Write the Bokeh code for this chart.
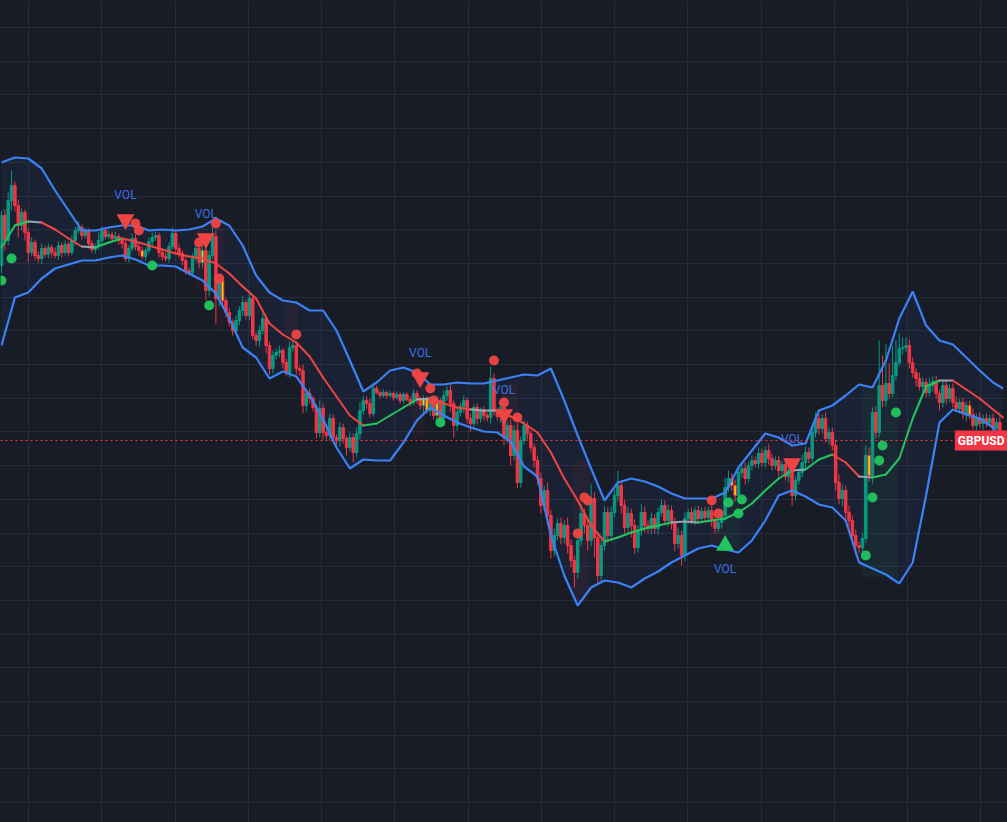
import numpy as np
from bokeh.plotting import figure
from bokeh.models import Range1d, FixedTicker, Span, Label, Grid, ColumnDataSource
from bokeh.embed import file_html
from bokeh.resources import INLINE
from bokeh.core.properties import value

PIP = 10000.0
symbol = "GBPUSD"

# ---- price data (pips, price = v / 10000) ----
first_open = 12735
closes = [
    12785, 12760, 12800, 12815, 12795, 12775, 12788, 12768, 12748, 12758,
    12745, 12742, 12752, 12746, 12753, 12748, 12745, 12755, 12748, 12756,
    12748, 12760, 12770, 12773, 12765, 12769, 12757, 12751, 12754, 12760,
    12770, 12764, 12766, 12762, 12764, 12760, 12757, 12742, 12752, 12762,
    12754, 12750, 12744, 12750, 12759, 12763, 12765, 12748, 12744, 12742,
    12754, 12767, 12752, 12747, 12740, 12730, 12728, 12742, 12752, 12738,
    12750, 12710, 12745, 12764, 12702, 12720, 12700, 12688, 12678, 12670,
    12680, 12690, 12698, 12685, 12702, 12665, 12660, 12670, 12682, 12655,
    12632, 12645, 12648, 12650, 12638, 12628, 12653, 12655, 12632, 12630,
    12595, 12607, 12602, 12593, 12568, 12592, 12568, 12565, 12582, 12563,
    12560, 12573, 12562, 12553, 12563, 12548, 12567, 12590, 12600, 12597,
    12587, 12612, 12608, 12605, 12608, 12605, 12607, 12603, 12606, 12600,
    12606, 12601, 12598, 12607, 12602, 12595, 12602, 12590, 12600, 12585,
    12600, 12582, 12605, 12610, 12597, 12575, 12588, 12594, 12600, 12582,
    12577, 12593, 12582, 12590, 12585, 12583, 12622, 12590, 12584, 12593,
    12563, 12575, 12545, 12570, 12518, 12560, 12575, 12567, 12553, 12540,
    12522, 12495, 12510, 12485, 12450, 12465, 12477, 12463, 12475, 12455,
    12440, 12428, 12460, 12487, 12475, 12460, 12502, 12463, 12425, 12455,
    12488, 12465, 12488, 12505, 12515, 12495, 12473, 12487, 12475, 12453,
    12470, 12488, 12475, 12472, 12482, 12472, 12488, 12495, 12480, 12490,
    12477, 12457, 12465, 12445, 12482, 12488, 12480, 12490, 12482, 12489,
    12483, 12490, 12480, 12472, 12478, 12485, 12513, 12522, 12515, 12505,
    12528, 12532, 12522, 12535, 12540, 12537, 12547, 12538, 12550, 12542,
    12535, 12540, 12530, 12536, 12524, 12530, 12505, 12520, 12528, 12538,
    12548, 12542, 12568, 12582, 12572, 12582, 12562, 12568, 12555, 12518,
    12502, 12510, 12488, 12480, 12465, 12455, 12453, 12462, 12545, 12525,
    12588, 12568, 12615, 12600, 12617, 12607, 12625, 12638, 12652, 12653,
    12655, 12638, 12628, 12622, 12614, 12618, 12608, 12615, 12619, 12607,
    12598, 12615, 12602, 12612, 12598, 12592, 12598, 12587, 12595, 12586,
    12575, 12583, 12577, 12582, 12578, 12582, 12572, 12578, 12565, 12560,
]
upper_wick = [
    5, 6, 8, 15, 4, 6, 4, 3, 4, 5,
    3, 4, 5, 3, 4, 3, 5, 4, 3, 4,
    3, 5, 4, 6, 3, 4, 3, 4, 3, 8,
    4, 3, 4, 3, 5, 3, 3, 4, 3, 5,
    4, 3, 4, 3, 4, 5, 4, 3, 3, 4,
    4, 6, 3, 4, 3, 4, 3, 5, 4, 6,
    4, 8, 5, 10, 6, 4, 5, 3, 4, 3,
    5, 4, 6, 3, 8, 4, 3, 5, 6, 3,
    4, 5, 4, 5, 3, 4, 6, 5, 4, 3,
    6, 4, 5, 3, 4, 8, 5, 3, 5, 4,
    3, 5, 4, 3, 5, 4, 6, 8, 5, 4,
    5, 6, 3, 2, 3, 2, 3, 2, 3, 2,
    3, 2, 3, 4, 3, 2, 3, 3, 4, 3,
    4, 3, 5, 4, 6, 3, 5, 4, 5, 3,
    5, 3, 4, 3, 4, 3, 12, 5, 3, 6,
    5, 4, 6, 5, 7, 4, 5, 4, 3, 4,
    5, 6, 5, 8, 6, 7, 5, 6, 5, 8,
    6, 5, 7, 10, 5, 6, 14, 6, 5, 7,
    6, 5, 6, 5, 15, 5, 6, 7, 5, 6,
    5, 8, 6, 5, 6, 4, 5, 6, 5, 6,
    5, 6, 8, 5, 6, 4, 5, 4, 5, 4,
    5, 4, 5, 6, 4, 5, 10, 8, 5, 6,
    5, 4, 6, 4, 5, 4, 6, 5, 4, 6,
    5, 4, 5, 4, 6, 5, 6, 4, 5, 8,
    6, 5, 7, 6, 5, 4, 6, 5, 5, 6,
    8, 6, 5, 7, 5, 6, 4, 5, 10, 8,
    5, 6, 45, 30, 40, 20, 30, 22, 15, 10,
    8, 6, 5, 4, 6, 5, 4, 8, 5, 6,
    4, 5, 6, 4, 5, 6, 4, 5, 4, 5,
    6, 4, 5, 4, 5, 4, 5, 4, 6, 3,
]
lower_wick = [
    8, 10, 5, 10, 6, 12, 5, 8, 10, 4,
    5, 4, 6, 3, 4, 5, 3, 4, 5, 3,
    4, 3, 5, 3, 4, 3, 5, 3, 4, 3,
    4, 3, 3, 4, 3, 4, 5, 3, 4, 3,
    4, 5, 3, 4, 3, 4, 3, 5, 4, 3,
    4, 3, 5, 4, 5, 4, 3, 4, 3, 6,
    5, 10, 6, 4, 25, 8, 6, 5, 4, 5,
    4, 5, 6, 4, 5, 4, 5, 6, 4, 8,
    6, 5, 4, 5, 6, 4, 5, 4, 6, 5,
    8, 6, 5, 4, 6, 5, 7, 4, 5, 6,
    4, 6, 5, 8, 4, 10, 5, 6, 4, 5,
    4, 3, 2, 3, 2, 3, 2, 3, 2, 3,
    3, 2, 4, 3, 5, 4, 8, 3, 6, 4,
    5, 6, 4, 5, 8, 12, 5, 4, 6, 5,
    8, 5, 6, 4, 5, 4, 6, 5, 4, 6,
    8, 6, 10, 5, 6, 5, 4, 6, 5, 7,
    6, 8, 5, 10, 8, 6, 5, 7, 6, 8,
    7, 15, 6, 5, 8, 10, 6, 20, 8, 6,
    5, 7, 6, 5, 6, 8, 6, 5, 12, 6,
    5, 6, 7, 5, 6, 5, 6, 4, 5, 6,
    6, 8, 5, 10, 6, 5, 4, 5, 4, 5,
    4, 5, 6, 5, 4, 6, 5, 4, 5, 6,
    4, 5, 6, 4, 5, 4, 5, 4, 5, 6,
    5, 4, 6, 5, 4, 6, 10, 5, 4, 5,
    6, 5, 4, 5, 6, 5, 4, 6, 5, 8,
    6, 8, 7, 6, 8, 10, 6, 5, 4, 6,
    8, 6, 5, 7, 6, 5, 4, 5, 4, 6,
    5, 6, 5, 8, 4, 6, 5, 4, 6, 5,
    8, 5, 6, 4, 5, 4, 5, 6, 8, 5,
    4, 5, 4, 6, 5, 4, 5, 6, 4, 5,
]
yellow_idx = [42, 60, 66, 126, 127, 130, 218, 219, 259, 289]

# ---- bands / basis sampled every 4 bars ----
band_idx = list(range(0, 300, 4)) + [299]
band_upper = [
    12838, 12843, 12842, 12832, 12810, 12790, 12770, 12770, 12773, 12775,
    12775, 12770, 12771, 12770, 12771, 12774, 12782, 12775, 12755, 12725,
    12708, 12700, 12698, 12690, 12690, 12670, 12640, 12609, 12618, 12630,
    12633, 12628, 12616, 12616, 12618, 12617, 12617, 12620, 12623, 12626,
    12625, 12632, 12600, 12565, 12532, 12500, 12518, 12522, 12519, 12514,
    12507, 12502, 12502, 12502, 12508, 12533, 12550, 12567, 12563, 12555,
    12557, 12590, 12595, 12605, 12616, 12613, 12640, 12682, 12709, 12675,
    12660, 12656, 12643, 12630, 12618, 12612,
]
band_lower = [
    12655, 12703, 12708, 12722, 12732, 12736, 12740, 12740, 12743, 12745,
    12741, 12735, 12735, 12734, 12727, 12720, 12707, 12682, 12653, 12643,
    12622, 12629, 12624, 12605, 12581, 12553, 12532, 12541, 12540, 12540,
    12558, 12580, 12593, 12585, 12578, 12573, 12569, 12568, 12559, 12534,
    12524, 12465, 12425, 12395, 12413, 12420, 12418, 12413, 12422, 12429,
    12438, 12445, 12452, 12455, 12451, 12448, 12460, 12480, 12505, 12510,
    12504, 12496, 12493, 12480, 12438, 12432, 12426, 12417, 12438, 12505,
    12578, 12591, 12586, 12582, 12573, 12550,
]
basis = [
    12753, 12775, 12779, 12778, 12771, 12762, 12754, 12753, 12758, 12762,
    12759, 12755, 12751, 12747, 12744, 12742, 12737, 12727, 12714, 12702,
    12677, 12666, 12658, 12644, 12623, 12604, 12585, 12575, 12577, 12585,
    12593, 12601, 12602, 12597, 12593, 12591, 12590, 12590, 12584, 12577,
    12568, 12548, 12522, 12500, 12475, 12459, 12463, 12468, 12472, 12475,
    12478, 12479, 12478, 12480, 12482, 12488, 12497, 12510, 12522, 12530,
    12531, 12541, 12546, 12538, 12524, 12523, 12526, 12542, 12582, 12614,
    12620, 12620, 12611, 12602, 12591, 12583,
]

# ---- signals ----
red_dot_idx = [40, 41, 59, 64, 65, 88, 124, 128, 129, 147, 150, 154, 172, 174, 175, 212, 214]
red_dot_px = [12777, 12770, 12758, 12777, 12722, 12666, 12627, 12612, 12600, 12640, 12598,
              12583, 12467, 12503, 12500, 12500, 12487]
green_dot_idx = [0, 3, 45, 62, 131, 217, 220, 221, 258, 260, 262, 263, 267]
green_dot_px = [12720, 12742, 12735, 12695, 12578, 12498, 12487, 12501, 12445, 12503,
                12540, 12555, 12588]
sell_idx = [37, 61, 125, 150, 236]
sell_px = [12781, 12762, 12623, 12586, 12537]
buy_idx = [216]
buy_px = [12455]

# ---- volume highlight zones (bar ranges, price ranges) ----
hl_left = [36.5, 57.5, 63.5, 84.5, 122.5, 149.5, 170.5, 211.5, 215.5, 233.5, 256.5]
hl_right = [38.5, 61.5, 66.5, 88.5, 126.5, 154.5, 175.5, 215.5, 220.5, 238.5, 267.5]
hl_top = [12778, 12770, 12773, 12698, 12630, 12617, 12540, 12503, 12513, 12560, 12613]
hl_bottom = [12738, 12713, 12670, 12628, 12563, 12560, 12400, 12457, 12453, 12505, 12423]
hl_up = [False, False, False, False, False, False, False, False, True, False, True]

# ---- colours ----
BG = "#181c27"
GRID = "#262b38"
UP = "#089981"
DOWN = "#f23645"
BAND = "#3b82f6"
MA_UP = "#22c55e"
MA_DN = "#ef4444"
MA_FLAT = "#9ca3af"
YELLOW = "#ffd600"
VOLTXT = "#3b6fe6"

n = len(closes)
idx = np.arange(n)
c = np.array(closes, dtype=float) / PIP
o = np.array([first_open] + closes[:-1], dtype=float) / PIP
hi = np.maximum(o, c) + np.array(upper_wick) / PIP
lo = np.minimum(o, c) - np.array(lower_wick) / PIP
up = c >= o
col = np.where(up, UP, DOWN)
body_fill = col.copy()
for k in yellow_idx:
    body_fill[k] = YELLOW

p = figure(width=1007, height=822, x_range=Range1d(-0.2985, 300.3),
           y_range=Range1d(1.2178, 1.3000), x_axis_type=None, y_axis_type=None,
           toolbar_location=None, output_backend="svg", min_border=0,
           background_fill_color=BG, border_fill_color=BG)
p.outline_line_color = None

xg = 8.06 + 21.87 * np.arange(14)
yg = (12973 - 33.7 * np.arange(25)) / PIP
p.add_layout(Grid(dimension=0, ticker=FixedTicker(ticks=list(xg)), grid_line_color=GRID, grid_line_width=1))
p.add_layout(Grid(dimension=1, ticker=FixedTicker(ticks=list(yg)), grid_line_color=GRID, grid_line_width=1))

bi = np.array(band_idx)
bu = np.array(band_upper) / PIP
bl = np.array(band_lower) / PIP
bb = np.array(basis) / PIP

# band fill
p.varea(x=bi, y1=bl, y2=bu, fill_color=BAND, fill_alpha=0.05)

# highlight zones
p.quad(left=hl_left, right=hl_right, top=np.array(hl_top) / PIP, bottom=np.array(hl_bottom) / PIP,
       fill_color=[MA_UP if u else DOWN for u in hl_up], fill_alpha=0.055, line_color=None)

# candles
src = ColumnDataSource(dict(x=idx, o=o, c=c, hi=hi, lo=lo, col=col, fill=body_fill,
                            top=np.maximum(o, c), bot=np.minimum(o, c)))
p.segment(x0="x", y0="hi", x1="x", y1="lo", color="col", line_width=1, source=src)
p.vbar(x="x", width=0.74, top="top", bottom="bot", fill_color="fill", line_color="col",
       line_width=1, source=src)

# bands
p.line(bi, bu, line_color=BAND, line_width=2.2)
p.line(bi, bl, line_color=BAND, line_width=2.2)

# basis coloured by slope
d = np.diff(np.array(basis, dtype=float))
ma_col = [MA_UP if v > 1 else (MA_DN if v < -1 else MA_FLAT) for v in d]
p.segment(x0=bi[:-1], y0=bb[:-1], x1=bi[1:], y1=bb[1:], line_color=ma_col, line_width=2,
          line_cap="round")

# current price line
p.add_layout(Span(location=c[-1], dimension="width", line_color=DOWN, line_dash="2 3", line_width=1.2))

# signal dots
p.scatter(red_dot_idx, np.array(red_dot_px) / PIP, size=10, fill_color=MA_DN, line_color=None, fill_alpha=0.95)
p.scatter(green_dot_idx, np.array(green_dot_px) / PIP, size=10, fill_color=MA_UP, line_color=None, fill_alpha=0.95)

# volume triangles + labels
p.scatter(sell_idx, np.array(sell_px) / PIP, marker="inverted_triangle", size=18,
          fill_color=MA_DN, line_color=None)
p.scatter(buy_idx, np.array(buy_px) / PIP, marker="triangle", size=18,
          fill_color=MA_UP, line_color=None)
p.text(x=sell_idx, y=np.array(sell_px) / PIP, text=["VOL"] * len(sell_idx), y_offset=-25,
       text_align="center", text_baseline="middle", text_color=VOLTXT,
       text_font=value("Roboto"), text_font_size="12px")
p.text(x=buy_idx, y=np.array(buy_px) / PIP, text=["VOL"] * len(buy_idx), y_offset=23,
       text_align="center", text_baseline="middle", text_color=VOLTXT,
       text_font=value("Roboto"), text_font_size="12px")

# symbol tag
p.add_layout(Label(x=1007, y=c[-1], x_units="screen", y_units="data", text=symbol,
                   text_align="right", text_baseline="middle", text_color="white",
                   text_font="Roboto", text_font_size="12px", text_font_style="bold",
                   background_fill_color=DOWN, padding=3))

html = file_html(p, INLINE, title="GBPUSD")
html = html.replace("<head>", "<head><style>html,body{margin:0;padding:0;background:#181c27;overflow:hidden;}</style>", 1)
open("out.html", "w").write(html)
